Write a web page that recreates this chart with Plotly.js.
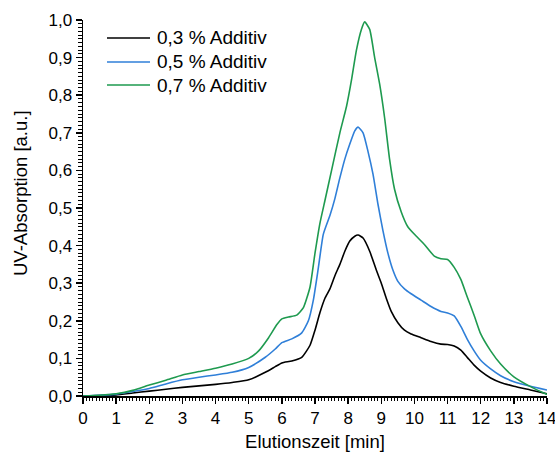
<!DOCTYPE html>
<html>
<head>
<meta charset="utf-8">
<script src="https://cdn.plot.ly/plotly-3.0.1.min.js"></script>
<style>html,body{margin:0;padding:0;background:#fff;}#chart{width:555px;height:452px;}</style>
</head>
<body>
<div id="chart"></div>
<script>
const seriesNames = ['0,3 % Additiv', '0,5 % Additiv', '0,7 % Additiv'];

const x03 = [0,0.5,1,1.5,2,2.5,3,3.5,4,4.5,5,5.5,5.8,6,6.3,6.6,6.85,7,7.15,7.3,7.45,7.6,7.75,7.9,8.05,8.2,8.3,8.45,8.65,8.85,9.0,9.15,9.3,9.5,9.7,9.9,10.2,10.5,10.8,11.0,11.2,11.4,11.6,11.8,12.0,12.3,12.6,13.0,13.5,14];
const y03 = [0,0.001,0.003,0.008,0.013,0.018,0.023,0.027,0.031,0.036,0.043,0.063,0.078,0.088,0.093,0.103,0.135,0.175,0.222,0.26,0.285,0.32,0.35,0.385,0.412,0.425,0.428,0.42,0.385,0.335,0.3,0.26,0.225,0.195,0.175,0.165,0.155,0.145,0.138,0.137,0.133,0.122,0.102,0.082,0.066,0.048,0.036,0.026,0.016,0.006];

const x05 = [0,0.5,1,1.5,2,2.5,3,3.5,4,4.5,5,5.5,5.8,6,6.3,6.6,6.8,6.95,7.1,7.25,7.45,7.6,7.75,7.9,8.05,8.2,8.3,8.45,8.6,8.75,8.9,9.05,9.2,9.35,9.5,9.7,9.9,10.2,10.5,10.8,11.0,11.2,11.4,11.6,11.8,12.0,12.3,12.6,13.0,13.5,14];
const y05 = [0,0.002,0.005,0.012,0.02,0.032,0.043,0.05,0.056,0.063,0.076,0.103,0.125,0.142,0.152,0.168,0.2,0.255,0.34,0.43,0.48,0.525,0.58,0.63,0.67,0.705,0.715,0.7,0.65,0.59,0.51,0.44,0.38,0.335,0.305,0.285,0.272,0.255,0.238,0.225,0.221,0.213,0.185,0.15,0.12,0.095,0.072,0.054,0.038,0.026,0.016];

const x07 = [0,0.5,1,1.5,2,2.5,3,3.5,4,4.5,5,5.3,5.6,5.85,6,6.2,6.45,6.65,6.85,7.0,7.15,7.3,7.5,7.75,7.95,8.1,8.25,8.4,8.5,8.65,8.8,8.95,9.1,9.25,9.4,9.6,9.8,10.0,10.3,10.6,10.8,11.0,11.2,11.4,11.6,11.8,12.0,12.3,12.6,13.0,13.5,14];
const y07 = [0,0.002,0.006,0.015,0.029,0.042,0.056,0.065,0.074,0.085,0.1,0.12,0.155,0.19,0.205,0.21,0.215,0.235,0.29,0.38,0.46,0.52,0.6,0.7,0.77,0.84,0.92,0.975,0.995,0.975,0.9,0.83,0.74,0.63,0.55,0.49,0.45,0.43,0.403,0.372,0.365,0.363,0.342,0.31,0.262,0.215,0.165,0.12,0.085,0.051,0.025,0.004];

const colors = ['#000000', '#2f7fd8', '#1e9a4f'];
const xs = [x03, x05, x07];
const ys = [y03, y05, y07];

const traces = seriesNames.map((n, i) => ({
  x: xs[i], y: ys[i], name: n, type: 'scatter', mode: 'lines',
  line: {color: colors[i], width: 1.6, shape: 'spline', smoothing: 0.5},
  cliponaxis: false, showlegend: false
}));

const font = 'Liberation Sans, Arial, sans-serif';

// legend drawn in paper pixels (plot area: x 83..547, y 20..396)
const plotL = 83, plotW = 464, plotT = 20, plotH = 376;
const px = v => (v - plotL) / plotW;
const py = v => 1 - (v - plotT) / plotH;
const legendRows = [38, 62, 85];
const shapes = [], annotations = [];
seriesNames.forEach((n, i) => {
  shapes.push({type: 'line', xref: 'paper', yref: 'paper', x0: px(107), x1: px(150), y0: py(legendRows[i]), y1: py(legendRows[i]),
    line: {color: colors[i], width: 1.6}});
  annotations.push({xref: 'paper', yref: 'paper', x: px(155), y: py(legendRows[i]), xanchor: 'left', yanchor: 'middle',
    text: n, showarrow: false, font: {size: 19, family: font, color: '#000'}});
});
annotations.push({xref: 'paper', yref: 'paper', x: px(20), y: py(193), xanchor: 'center', yanchor: 'middle',
  text: 'UV-Absorption [a.u.]', textangle: -90, showarrow: false, font: {size: 18.5, family: font, color: '#000'}});

const layout = {
  width: 555, height: 452,
  margin: {l: 83, r: 8, t: 20, b: 56},
  paper_bgcolor: '#fff', plot_bgcolor: '#fff',
  separators: ',.',
  font: {family: font, color: '#000', size: 17},
  showlegend: false,
  shapes: shapes,
  annotations: annotations,
  xaxis: {
    range: [0, 14], tick0: 0, dtick: 1, ticks: 'outside', ticklen: 6, tickwidth: 1.5, tickcolor: '#000',
    showline: true, linewidth: 1.5, linecolor: '#000', showgrid: false, zeroline: false,
    tickfont: {size: 17}, fixedrange: true, ticklabeloverflow: 'allow', automargin: false,
    minor: {ticks: 'outside', dtick: 0.1, tick0: 0, ticklen: 3.5, tickwidth: 1, tickcolor: '#000', showgrid: false},
    title: {text: 'Elutionszeit [min]', font: {size: 18.5}, standoff: 10}
  },
  yaxis: {
    range: [0, 1.0], tick0: 0, dtick: 0.1, tickformat: '.1f', ticks: 'outside', ticklen: 6, tickwidth: 1.5, tickcolor: '#000',
    showline: true, linewidth: 1.5, linecolor: '#000', showgrid: false, zeroline: false,
    tickfont: {size: 17}, fixedrange: true, ticklabeloverflow: 'allow', automargin: false,
    minor: {ticks: 'outside', dtick: 0.01, tick0: 0, ticklen: 3.5, tickwidth: 1, tickcolor: '#000', showgrid: false}
  }
};

Plotly.newPlot('chart', traces, layout, {displayModeBar: false, staticPlot: true});
</script>
</body>
</html>
